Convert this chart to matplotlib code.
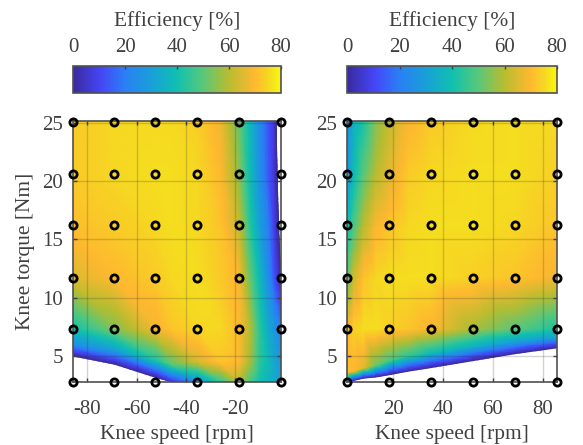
import matplotlib
matplotlib.use("Agg")
import matplotlib.pyplot as plt
import matplotlib.tri as mtri
import numpy as np
from matplotlib.colors import LinearSegmentedColormap, Normalize
from matplotlib.cm import ScalarMappable

plt.rcParams['font.family'] = ['Liberation Serif', 'DejaVu Serif']
plt.rcParams['axes.unicode_minus'] = False

TEXT = "#404040"
BOX = "#505050"
LABEL_SIZE = 15.4
TICK_SIZE = 15

# measured points, circles on both plots
left_points_speed = [-85.8, -69.2, -52.4, -35.4, -18.6, -1.4]
right_points_speed = [1.4, 18.2, 35.1, 52.0, 69.0, 85.8]
points_torque = [2.8, 7.3, 11.7, 16.2, 20.6, 25.1]

# left surface, columns of speed and rows from the lower edge up
left_speed = [-85.8, -69, -52, -46, -35, -26, -18.5, -14, -10, -6.5, -4, -1.4]
left_end_speed = [-1.4, -1.4, -1.4, -1.4, -2.4, -3.0, -3.4]  # coloured area stops short of the box up high
left_edge_torque = [5.0, 4.3, 3.15, 2.8, 2.8, 2.8, 2.8, 2.8, 2.8, 2.8, 2.8, 2.8]
left_low_torque = [6.0, 5.5, 4.6, 4.3, 4.5, 4.5, 4.5, 4.5, 4.5, 4.5, 4.5, 4.5]
left_rows_torque = [7.3, 11.7, 16.2, 20.6, 25.1]
left_eff = [
    [0, 0, 0, 5, 25, 45, 60, 48, 40, 36, 33, 30],
    [25, 30, 42, 50, 64, 72, 70, 58, 44, 38, 32, 28],
    [40, 54, 68, 72, 75, 75, 70, 60, 44, 33, 28, 20],
    [65, 70, 73, 75, 76, 73, 69, 52, 38, 24, 12, 0],
    [71, 73, 75, 76, 75, 72, 62, 44, 30, 20, 8, 0],
    [73, 75, 76, 76, 75, 70, 56, 39, 25, 14, 6, 0],
    [73, 75, 75.5, 75.5, 73.5, 68, 52, 38, 24, 13, 6, 0],
]

# right surface, same layout
right_speed = [1.4, 4, 8, 13, 18.5, 26, 35, 52, 69, 85.8]
right_edge_torque = [2.8, 2.9, 3.1, 3.2, 3.4, 3.7, 4.0, 4.6, 5.2, 5.7]
right_low_torque = [3.6, 3.7, 4.0, 4.2, 4.6, 5.0, 5.3, 5.8, 6.2, 6.6]
right_rows_torque = [7.3, 11.7, 16.2, 20.6, 25.1]
right_eff = [
    [40, 0, 0, 0, 0, 0, 0, 0, 0, 0],
    [70, 70, 66, 52, 48, 45, 40, 35, 30, 30],
    [70, 74, 76, 76, 74, 72, 69, 58, 50, 42],
    [50, 63, 72, 75, 76, 76, 76, 74, 72, 68],
    [38, 48, 60, 69, 72, 75, 76, 76, 75, 72],
    [28, 38, 50, 60, 66, 73, 75, 76, 76, 74],
    [25, 35, 42, 55, 62, 69, 73, 75.5, 76, 75],
]

# colours
bar_levels = [0, 10.4, 20, 30, 40, 49, 60, 70, 76, 80]
bar_colors = ["#3a2a9e", "#4545f5", "#2a80f5", "#18a0d8", "#10c0b0", "#50c880",
              "#b8bc30", "#ffb830", "#f5dc20", "#f8f810"]
eff_cmap = LinearSegmentedColormap.from_list(
    "eff", [(v / 80, c) for v, c in zip(bar_levels, bar_colors)])
eff_norm = Normalize(0, 80)


def style_box(ax):
    for spine in ax.spines.values():
        spine.set_color(BOX)
        spine.set_linewidth(1.2)
        spine.set_zorder(4)


def draw_panel(ax, speed, edge, low, rows, eff, end_speed=None):
    x = np.tile(np.array(speed, dtype=float), (len(rows) + 2, 1))
    if end_speed is not None:
        x[:, -1] = end_speed
    y = np.vstack([edge, low] + [np.full(len(speed), t) for t in rows])
    z = np.array(eff, dtype=float)

    # two triangles per cell, then refine so the colours follow the colour map
    nrow, ncol = z.shape
    triangles = []
    for r in range(nrow - 1):
        for c in range(ncol - 1):
            a = r * ncol + c
            triangles.append([a, a + 1, a + ncol])
            triangles.append([a + 1, a + ncol + 1, a + ncol])
    tri = mtri.Triangulation(x.ravel(), y.ravel(), triangles)
    refiner = mtri.UniformTriRefiner(tri)
    fine_tri, fine_z = refiner.refine_field(z.ravel(), mtri.LinearTriInterpolator(tri, z.ravel()), subdiv=3)
    ax.tripcolor(fine_tri, fine_z, shading="gouraud", cmap=eff_cmap, norm=eff_norm, zorder=1)

    ax.set_ylim(2.77, 25.15)
    ax.set_yticks([5, 10, 15, 20, 25])
    ax.grid(True, color="#262626", alpha=0.2, linewidth=1.0, zorder=2)
    ax.set_axisbelow(False)
    ax.tick_params(direction="in", length=3, width=1.0, top=True, right=True,
                   colors=TEXT, labelsize=TICK_SIZE)
    ax.tick_params(axis="x", pad=13)
    ax.tick_params(axis="y", pad=7)
    ax.set_xlabel("Knee speed [rpm]", fontsize=LABEL_SIZE, color=TEXT, labelpad=4)
    style_box(ax)


def draw_bar(fig, pos):
    cax = fig.add_axes(pos)
    cb = fig.colorbar(ScalarMappable(norm=eff_norm, cmap=eff_cmap), cax=cax,
                      orientation="horizontal")
    cb.set_ticks([0, 20, 40, 60, 80])
    cax.xaxis.set_ticks_position("top")
    cax.xaxis.set_label_position("top")
    cax.tick_params(direction="in", length=2, width=1.0, colors=TEXT,
                    labelsize=TICK_SIZE, pad=6.5)
    cb.set_label("Efficiency [%]", fontsize=LABEL_SIZE, color=TEXT, labelpad=8.5)
    cb.outline.set_edgecolor(BOX)
    cb.outline.set_linewidth(1.2)


W, H = 583.0, 445.0
fig = plt.figure(figsize=(W / 100, H / 100), dpi=100)

ax1 = fig.add_axes([73 / W, 1 - 382 / H, 208 / W, 261 / H])
draw_panel(ax1, left_speed, left_edge_torque, left_low_torque, left_rows_torque,
           left_eff, left_end_speed)
ax1.set_xlim(-85.8, -1.4)
ax1.set_xticks([-80, -60, -40, -20])
ax1.set_ylabel("Knee torque [Nm]", fontsize=LABEL_SIZE, color=TEXT, labelpad=5)

ax2 = fig.add_axes([347 / W, 1 - 382 / H, 210 / W, 261 / H])
draw_panel(ax2, right_speed, right_edge_torque, right_low_torque, right_rows_torque,
           right_eff)
ax2.set_xlim(1.4, 85.8)
ax2.set_xticks([20, 40, 60, 80])

# circles go over the box so they are not clipped
for ax, speeds in ((ax1, left_points_speed), (ax2, right_points_speed)):
    for s in speeds:
        ax.plot([s] * len(points_torque), points_torque, "o", mfc="none", mec="black",
                ms=5.2, mew=2.0, clip_on=False, zorder=5)

draw_bar(fig, [73 / W, 1 - 93 / H, 208 / W, 27 / H])
draw_bar(fig, [347 / W, 1 - 93 / H, 210 / W, 27 / H])

fig.savefig("out.png", dpi=100)
